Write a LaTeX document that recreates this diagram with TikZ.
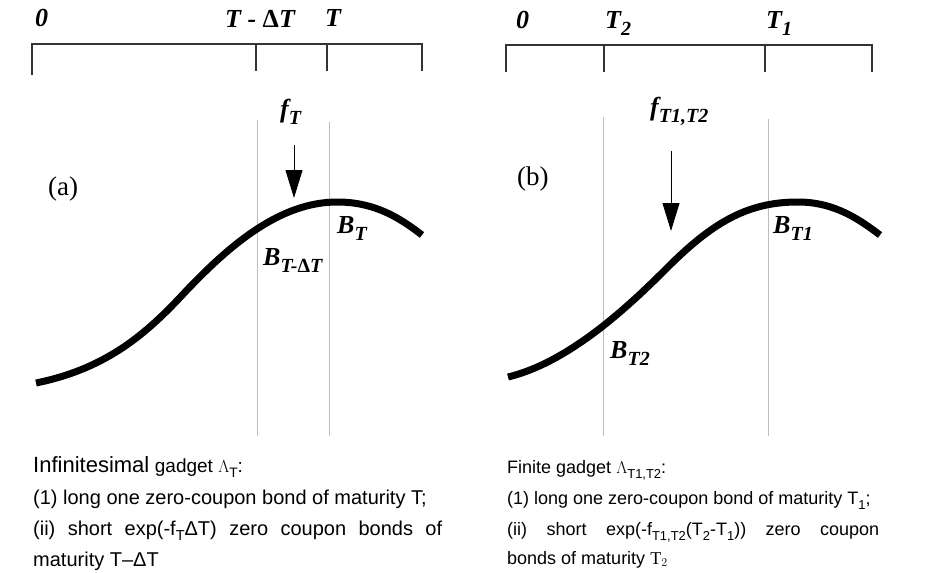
\documentclass[tikz,border=0pt]{standalone}
\usepackage{fontspec}
\setmainfont{Liberation Serif}
\newfontfamily\arialfont{Liberation Sans}
\usepackage{graphicx}
\usetikzlibrary{arrows.meta,positioning}
\definecolor{GuideGray}{HTML}{BDBDBD}
\definecolor{AxisInk}{HTML}{333333}
\newcommand{\lowidx}[2][0.77]{\raisebox{-0.28em}{\scalebox{#1}{#2}}}

\begin{document}
\begin{tikzpicture}[x=1pt, y=-1pt,
  every node/.style={inner sep=0pt, anchor=base west},
  lbl/.style={font=\fontsize{26}{26}\selectfont\bfseries\itshape},
  panel/.style={font=\fontsize{27}{27}\selectfont},
  guide/.style={draw=GuideGray, line width=1pt},
  axis/.style={draw=AxisInk, line width=1.1pt},
  bond/.style={line width=7pt},
  drop/.style={-{Triangle[length=28pt,width=17pt]}, line width=1pt},
  note/.style={font=\arialfont\fontsize{20}{31}\selectfont},
  smallnote/.style={font=\arialfont\fontsize{18}{30}\selectfont}]
  \useasboundingbox (0,0) rectangle (938,573);

  % (a) infinitesimal gadget
  \draw[axis] (32,75) -- (32,44) -- (422,44) -- (422,71);
  \foreach \tx in {256,327} \draw[axis] (\tx,44) -- (\tx,71);
  \node[lbl] (zeroA) at (35,26) {0};
  \node[lbl] (tdt) at (225,27) {T - \textup{Δ}T};
  \node[lbl] (tA) at (325,26) {T};
  \draw[guide] (257,120) -- (257,436);
  \draw[guide] (329,122) -- (329,436);
  \node[lbl] (fT) at (280,117) {f\lowidx{T}};
  \coordinate (fTtail) at (294,145);
  \coordinate (fTtip) at (294,198);
  \draw[drop] (fTtail) -- (fTtip);
  \node[panel] (pa) at (48,195) {(a)};
  \draw[bond] (36,383) .. controls (110,368) and (150,330) .. (187,290)
    .. controls (230,245) and (280,202) .. (337,202)
    .. controls (375,202) and (400,218) .. (422,235);
  \node[lbl] (bT) at (337,233) {B\lowidx{T}};
  \node[lbl] (bTdt) at (263,265) {B\lowidx{T-\textup{Δ}T}};

  % (b) finite gadget
  \draw[axis] (506,72) -- (506,45) -- (872,45) -- (872,72);
  \foreach \tx in {604,765} \draw[axis] (\tx,45) -- (\tx,72);
  \node[lbl] (zeroB) at (516,28) {0};
  \node[lbl] (tTwo) at (605,28) {T\lowidx{2}};
  \node[lbl] (tOne) at (766,28) {T\lowidx{1}};
  \draw[guide] (603,117) -- (603,436);
  \draw[guide] (768,119) -- (768,436);
  \node[lbl] (fTT) at (650,115) {f\lowidx{T1,T2}};
  \coordinate (fTTtail) at (671,151);
  \coordinate (fTTtip) at (671,231);
  \draw[drop] (fTTtail) -- (fTTtip);
  \node[panel] (pb) at (517,185) {(b)};
  \draw[bond] (508,377) .. controls (570,362) and (630,305) .. (668,267)
    .. controls (715,220) and (750,202) .. (798,202)
    .. controls (835,202) and (860,220) .. (880,235);
  \node[lbl] (bTone) at (773,233) {B\lowidx{T1}};
  \node[lbl] (bTtwo) at (610,358) {B\lowidx{T2}};

  % captions
  \node[note] (capA1) at (33,472) {{\fontsize{22}{31}\selectfont Infinitesimal} {\fontsize{19}{31}\selectfont gadget $\Lambda$\lowidx[0.72]{T}:}};
  \node[note] (capA2) at (33,504) {(1) long one zero-coupon bond of maturity T;};
  \node[note] (capA3) at (33,535) {\makebox[409pt][s]{(ii) short exp(-f\lowidx[0.72]{T}ΔT) zero coupon bonds of}};
  \node[note] (capA4) at (33,566) {maturity T–ΔT};
  \node[smallnote] (capB1) at (507,473) {Finite gadget $\Lambda$\lowidx[0.72]{T1,T2}:};
  \node[smallnote] (capB2) at (507,504) {(1) long one zero-coupon bond of maturity T\lowidx[0.72]{1};};
  \node[smallnote] (capB3) at (507,535) {\makebox[372pt][s]{(ii) short exp(-f\lowidx[0.72]{T1,T2}(T\lowidx[0.72]{2}-T\lowidx[0.72]{1})) zero coupon}};
  \node[smallnote] (capB4) at (507,564) {bonds of maturity $\mathrm{T}_2$};
\end{tikzpicture}
\end{document}
